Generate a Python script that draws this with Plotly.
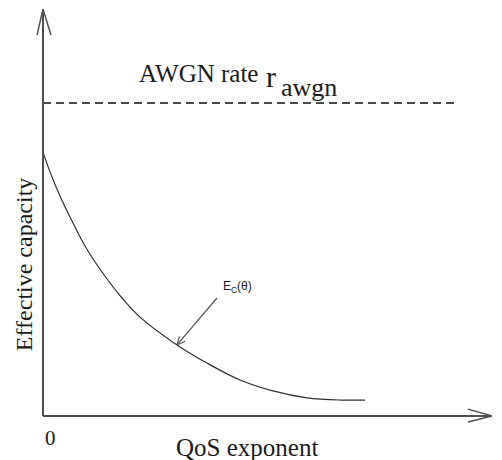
import plotly.graph_objects as go

# Data (arbitrary units: r_awgn = 10)
theta = [0, 0.175, 0.425, 0.675, 1.05, 1.475, 1.975, 2.425, 3.35, 4.1, 4.925, 5.75, 6.6, 7.425, 8.05]
ec = [8.43, 7.80, 7.03, 6.36, 5.43, 4.60, 3.77, 3.16, 2.27, 1.69, 1.15, 0.80, 0.58, 0.51, 0.51]
r_awgn = 10.0
awgn_theta = [0, 10.3]
x_axis_end = 11.225
y_axis_end = 13.0

SERIF = "Liberation Serif, Times New Roman, serif"
SANS = "Liberation Sans, Arial, sans-serif"
AX = "#505050"
TXT = "#1a1a1a"

fig = go.Figure()
fig.add_trace(go.Scatter(x=theta, y=ec, mode="lines", line=dict(color="#2e2e2e", width=1.2, shape="spline"),
                         hoverinfo="skip", showlegend=False))
fig.add_trace(go.Scatter(x=awgn_theta, y=[r_awgn, r_awgn], mode="lines",
                         line=dict(color="#111111", width=1.3, dash="8px,5px"),
                         hoverinfo="skip", showlegend=False))

def seg(x0, y0, x1, y1, w=1.5, c=AX):
    return dict(type="line", xref="x", yref="y", x0=x0, y0=y0, x1=x1, y1=y1, line=dict(color=c, width=w))

shapes = [
    seg(0, 0, x_axis_end, 0, 2),
    seg(0, 0, 0, y_axis_end, 2),
    # open arrowheads on the axes
    seg(-0.15, 12.17, 0, y_axis_end),
    seg(0.2, 12.17, 0, y_axis_end),
    seg(10.625, 0.22, x_axis_end, 0),
    seg(10.625, -0.19, x_axis_end, 0),
    # pointer to the E_C(theta) curve, with an open head
    seg(4.35, 3.77, 3.35, 2.27, 1.2, "#555555"),
    seg(3.555, 2.387, 3.35, 2.27, 1.2, "#555555"),
    seg(3.41, 2.546, 3.35, 2.27, 1.2, "#555555"),
]

annotations = [
    dict(x=3.89, y=10.93, text="AWGN rate", font=dict(family=SERIF, size=25, color=TXT), showarrow=False),
    dict(x=5.7, y=10.85, text="r", font=dict(family=SERIF, size=30, color=TXT), showarrow=False),
    dict(x=6.65, y=10.5, text="awgn", font=dict(family=SERIF, size=26, color=TXT), showarrow=False),
    dict(x=4.85, y=4.12, text="E<sub>C</sub>(θ)", font=dict(family=SANS, size=12, color=TXT), showarrow=False),
    dict(x=0.175, y=-0.70, text="0", font=dict(family=SERIF, size=21, color=TXT), showarrow=False),
    dict(x=5.1, y=-1.02, text="QoS exponent", font=dict(family=SERIF, size=25, color=TXT), showarrow=False),
    dict(x=11.37, y=-0.2, text="θ", font=dict(family=SERIF, size=11, color=TXT), showarrow=False),
    dict(x=-0.475, y=4.82, text="Effective capacity", textangle=-90, borderpad=0,
         font=dict(family=SERIF, size=24, color=TXT), showarrow=False),
]

# The page body has an 8px default margin, so the figure is 8px smaller and the ranges compensate.
fig.update_layout(
    width=494, height=452,
    margin=dict(l=0, r=0, t=0, b=0, pad=0, autoexpand=False),
    paper_bgcolor="white", plot_bgcolor="white",
    xaxis=dict(range=[-0.875, 11.475], visible=False, fixedrange=True),
    yaxis=dict(range=[-1.406, 13.035], visible=False, fixedrange=True),
    shapes=shapes, annotations=annotations, showlegend=False,
)

fig.write_html("out.html")
